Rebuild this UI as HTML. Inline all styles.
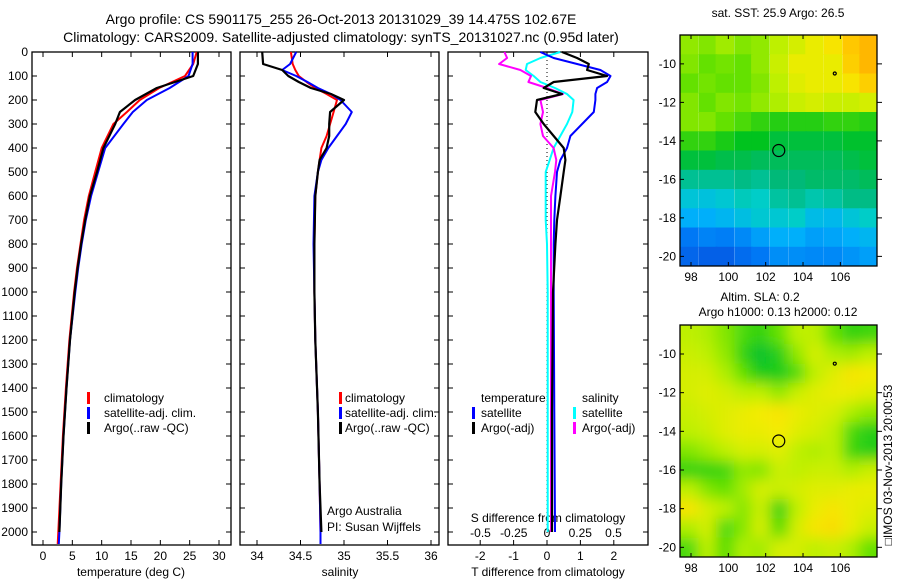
<!DOCTYPE html>
<html><head><meta charset="utf-8"><style>
html,body{margin:0;padding:0;background:#fff}
svg{display:block}
text{font-family:"Liberation Sans",sans-serif;font-size:12px;fill:#000}
</style></head><body>
<svg id="s" width="900" height="580" viewBox="0 0 900 580" xmlns="http://www.w3.org/2000/svg">
<defs>
<clipPath id="cm1"><rect x="680" y="35" width="197" height="231"/></clipPath>
<clipPath id="cm2"><rect x="680" y="325" width="197" height="232"/></clipPath>
<filter id="blur" x="0" y="0" width="1" height="1"><feGaussianBlur stdDeviation="7" edgeMode="duplicate"/></filter>
</defs>
<text x="341" y="24" text-anchor="middle" style="font-size:14px">Argo profile: CS 5901175_255 26-Oct-2013 20131029_39 14.475S 102.67E</text>
<text x="341" y="42" text-anchor="middle" style="font-size:14px">Climatology: CARS2009. Satellite-adjusted climatology: synTS_20131027.nc (0.95d later)</text>
<text x="778" y="17" text-anchor="middle">sat. SST: 25.9 Argo: 26.5</text>
<text x="760" y="301" text-anchor="middle">Altim. SLA: 0.2</text>
<text x="778" y="316" text-anchor="middle">Argo h1000: 0.13 h2000: 0.12</text>
<text transform="translate(892,465) rotate(-90)" text-anchor="middle">□IMOS 03-Nov-2013 20:00:53</text>
<g id="g"></g>
</svg>
<script>
// ---- profile data ----
const depthT = [0,50,100,150,200,250,300,400,500,600,700,800,900,1000,1200,1400,1600,1800,2000,2050];
const tempArgo = [26.4,26.4,25.6,19.4,15.7,13.1,12.3,10.3,9.2,8.0,7.2,6.5,5.9,5.4,4.6,4.0,3.5,3.1,2.8,null];
const tempClim = [26.2,25.6,24.2,19.8,16.5,14.3,12.0,10.0,8.9,7.8,7.0,6.4,5.8,5.3,4.5,3.9,3.4,3.0,2.6,2.5];
const tempSat = [25.5,25.5,24.8,21.6,17.7,15.3,13.7,10.6,9.4,8.2,7.3,6.6,6.0,5.5,4.6,4.0,3.5,3.1,2.8,2.7];
const depthS = [0,50,75,100,125,150,175,200,250,300,350,400,450,500,600,800,1000,1200,1500,1800,2000,2050];
const salArgo = [34.06,34.07,34.29,34.36,34.48,34.62,34.85,35.0,34.84,34.83,34.83,34.8,34.72,34.70,34.67,34.66,34.66,34.67,34.70,34.72,34.74,null];
const salClim = [34.39,34.41,34.44,34.48,34.57,34.67,34.80,34.92,34.88,34.84,34.80,34.74,34.72,34.70,34.67,34.66,34.66,34.67,34.70,34.72,34.73,34.73];
const salSat = [34.45,34.38,34.29,34.45,34.58,34.70,34.85,34.96,35.09,35.02,34.92,34.82,34.74,34.70,34.66,34.65,34.66,34.67,34.70,34.72,34.73,34.73];
const depthD = [0,25,50,75,100,125,150,175,200,250,300,350,400,450,500,600,700,800,1000,1500,2000];
const dTArgo = [0.45,0.9,1.25,1.2,1.8,0.2,-0.1,0.45,-0.3,-0.35,-0.1,0.2,0.5,0.55,0.5,0.4,0.3,0.25,0.18,0.15,0.15];
const dTSat = [-0.2,0.2,0.9,1.6,1.9,1.8,1.5,1.45,1.45,1.4,1.05,0.7,0.6,0.4,0.3,0.25,0.22,0.2,0.2,0.22,0.24];
const dSSat = [0.1,-0.05,-0.15,-0.16,-0.1,-0.05,0.06,0.15,0.2,0.19,0.15,0.1,0.05,0.02,-0.01,-0.01,-0.01,0,0.005,0.005,0.005];
const dSArgo = [-0.32,-0.3,-0.36,-0.2,-0.12,-0.14,0,0.12,-0.05,-0.03,-0.05,-0.03,0.05,0.07,0.06,0.03,0.03,0.03,0.03,0.03,0.03];
const depthTicks = [0,100,200,300,400,500,600,700,800,900,1000,1100,1200,1300,1400,1500,1600,1700,1800,1900,2000];
const tempTicks = [0,5,10,15,20,25,30];
const salTicks = [34,34.5,35,35.5,36];
const salTickLabels = ["34","34.5","35","35.5","36"];
const dTTicks = [-2,-1,0,1,2];
const dSTicks = [-0.5,-0.25,0,0.25,0.5];
const dSTickLabels = ["-0.5","-0.25","0","0.25","0.5"];
// ---- map data (colour index 0..7) ----
const mapLons = [97.9,98.9,99.8,100.8,101.7,102.7,103.7,104.6,105.6,106.6,107.5];
const mapLats = [-9,-10,-11,-12,-13,-14,-15,-16,-17,-18,-19,-20];
const sst = [
[5.3,5.2,5.4,5.2,5.3,5.6,5.8,6.0,6.2,6.6,6.8],
[5.2,5.0,5.1,5.0,5.3,5.7,6.0,6.0,6.0,6.5,6.8],
[5.0,5.1,5.0,5.0,5.2,5.6,5.9,6.0,6.0,6.2,6.5],
[5.2,5.0,5.2,5.1,5.3,5.5,5.7,5.8,5.7,5.7,5.8],
[5.2,5.2,5.0,4.8,4.6,4.5,4.5,4.5,4.6,4.6,4.5],
[4.6,4.6,4.4,4.2,4.2,4.0,4.0,4.0,4.0,4.1,4.1],
[4.0,4.0,3.9,3.9,3.8,3.8,3.8,3.8,3.8,3.9,4.0],
[3.4,3.4,3.4,3.5,3.4,3.6,3.6,3.7,3.7,3.7,3.8],
[2.7,2.6,2.8,3.1,3.0,3.3,3.4,3.2,3.3,3.5,3.5],
[2.0,2.0,2.2,2.5,2.8,2.8,3.0,2.4,2.3,2.7,3.0],
[1.0,1.2,1.1,1.3,1.7,2.0,2.0,1.7,1.8,2.0,2.2],
[0.7,0.6,0.6,0.8,1.0,1.4,1.4,1.3,1.3,1.5,1.7]];
const sla = [
[5.6,5.5,5.2,4.8,4.6,5.0,5.6,5.6,5.0,4.6,4.7],
[5.7,5.6,5.3,4.6,4.1,4.5,5.3,5.8,5.5,5.4,5.6],
[5.8,5.8,5.5,5.0,4.4,4.4,4.8,5.6,5.9,6.2,6.1],
[5.8,5.9,5.8,5.6,5.6,5.3,5.7,5.9,6.0,6.0,5.9],
[5.7,5.8,5.9,6.0,6.1,6.2,6.0,5.9,5.8,5.5,5.3],
[5.6,5.7,5.9,6.0,6.0,6.1,5.9,5.8,5.6,4.8,4.5],
[5.2,5.4,5.6,5.8,5.8,5.9,5.6,5.5,5.6,4.7,4.5],
[4.6,4.6,4.7,5.3,5.2,5.7,5.6,5.7,5.7,5.5,5.7],
[5.6,5.2,5.0,5.4,5.8,5.7,5.8,5.9,5.9,6.0,6.0],
[6.2,5.8,5.6,5.2,5.7,4.6,5.6,6.0,6.2,6.0,5.9],
[5.5,5.8,4.8,5.2,5.8,4.9,5.8,6.2,6.3,6.0,5.7],
[4.8,5.6,4.9,5.5,5.4,5.8,5.8,5.6,5.7,5.5,5.0]];
const floatPos = [102.7,-14.5];
const nearPos = [105.7,-10.5];
const mapLonTicks = [98,100,102,104,106];
const mapLatTicks = [-10,-12,-14,-16,-18,-20];

const NS="http://www.w3.org/2000/svg";
const G=document.getElementById('g');
function mk(tag,attrs,parent){const e=document.createElementNS(NS,tag);for(const k in attrs)e.setAttribute(k,attrs[k]);(parent||G).appendChild(e);return e;}
function txt(x,y,s,anchor,parent){const t=mk('text',{x:x,y:y,'text-anchor':anchor||'start'},parent);t.textContent=s;return t;}

const TOP=52,BOT=545;
const yD=d=>TOP+d*0.24;
const xT=v=>43+v*5.867;
const xS=v=>257+(v-34)*87;
const xDT=v=>547+v*33.4;
const xDS=v=>547+v*133;

function frame(x0,x1,name){
  const r=mk('rect',{x:x0,y:TOP,width:x1-x0,height:BOT-TOP,fill:'none',stroke:'#000','stroke-width':1.3});
  
  
  depthTicks.forEach(d=>{mk('line',{x1:x0,x2:x0+5,y1:yD(d),y2:yD(d),stroke:'#000'});mk('line',{x1:x1,x2:x1-5,y1:yD(d),y2:yD(d),stroke:'#000'});});
}
function xticks(vals,labels,fx,ly){
  vals.forEach((v,i)=>{const x=fx(v);mk('line',{x1:x,x2:x,y1:BOT,y2:BOT-5,stroke:'#000'});mk('line',{x1:x,x2:x,y1:TOP,y2:TOP+5,stroke:'#000'});
    const t=txt(x,ly,labels[i],'middle');});
}
function line(depths,vals,fx,color,name,w){
  const pts=[];depths.forEach((d,i)=>{if(vals[i]!==null)pts.push(fx(vals[i]).toFixed(1)+','+yD(d).toFixed(1));});
  const p=mk('polyline',{points:pts.join(' '),fill:'none',stroke:color,'stroke-width':w||2,'stroke-linejoin':'round'});
  
  
}
function legend(items,xb,xt,y0){
  items.forEach((it,i)=>{const y=y0+i*15;mk('rect',{x:xb,y:y-10,width:3,height:12,fill:it[1]});
    const t=txt(xt,y,it[0]);});
}

// panel 1 temperature
frame(32,231,'temperature-panel');
depthTicks.forEach(d=>{const t=txt(28,yD(d)+4,String(d),'end');});
xticks(tempTicks,tempTicks.map(String),xT,560);
txt(131,576,'temperature (deg C)','middle');
line(depthT,tempClim,xT,'#f00','temp-climatology-line');
line(depthT,tempSat,xT,'#00f','temp-satellite-line');
line(depthT,tempArgo,xT,'#000','temp-argo-line',2.2);
legend([['climatology','#f00'],['satellite-adj. clim.','#00f'],['Argo(..raw -QC)','#000']],87,104,402);

// panel 2 salinity
frame(240,439,'salinity-panel');
xticks(salTicks,salTickLabels,xS,560);
txt(340,576,'salinity','middle');
line(depthS,salClim,xS,'#f00','sal-climatology-line');
line(depthS,salSat,xS,'#00f','sal-satellite-line');
line(depthS,salArgo,xS,'#000','sal-argo-line',2.2);
legend([['climatology','#f00'],['satellite-adj. clim.','#00f'],['Argo(..raw -QC)','#000']],339,345,402);
txt(327,515,'Argo Australia');
txt(327,531,'PI: Susan Wijffels');

// panel 3 differences
frame(448,648,'difference-panel');
xticks(dTTicks,dTTicks.map(String),xDT,560);
dSTicks.forEach((v,i)=>{const t=txt(xDS(v),537,dSTickLabels[i],'middle');});
txt(548,522,'S difference from climatology','middle');
txt(548,576,'T difference from climatology','middle');
mk('line',{x1:xDT(0),x2:xDT(0),y1:TOP,y2:BOT,stroke:'#000','stroke-dasharray':'1,3'});
line(depthD,dSSat,xDS,'#0ff','s-diff-satellite-line');
line(depthD,dSArgo,xDS,'#f0f','s-diff-argo-line');
line(depthD,dTSat,xDT,'#00f','t-diff-satellite-line');
line(depthD,dTArgo,xDT,'#000','t-diff-argo-line',2.2);
txt(481,402,'temperature');
txt(582,402,'salinity');
legend([['satellite','#00f'],['Argo(-adj)','#000']],472,481,417);
legend([['satellite','#0ff'],['Argo(-adj)','#f0f']],573,582,417);

// colour map
const stops=[[0,[10,60,210]],[1,[0,120,245]],[2,[0,175,250]],[3,[0,205,200]],[3.6,[0,185,120]],[4.2,[0,195,30]],[5,[100,225,0]],[5.6,[190,240,0]],[6.1,[245,235,0]],[6.6,[255,200,0]],[7,[255,165,0]]];
function col(v){for(let i=0;i<stops.length-1;i++){const a=stops[i],b=stops[i+1];if(v<=b[0]||i==stops.length-2){const f=Math.max(0,Math.min(1,(v-a[0])/(b[0]-a[0])));return 'rgb('+a[1].map((c,k)=>Math.round(c+(b[1][k]-c)*f)).join(',')+')';}}}

function drawMap(grid,yTop,yBot,clip,blur,name){
  const x0=680,x1=877;
  const lx=v=>691+(v-98)*18.67;
  const ly=v=>(yTop)+(-8.5-v)*(yBot-yTop)/12;
  const outer=mk('g',{'clip-path':'url(#'+clip+')'});
  
  
  const inner=mk('g',blur?{filter:'url(#blur)'}:{},outer);
  const dlon=(mapLons[mapLons.length-1]-mapLons[0])/(mapLons.length-1);
  grid.forEach((row,r)=>row.forEach((v,c)=>{
    const xa=lx(mapLons[c]-dlon/2)-(c==0?20:0), xb=lx(mapLons[c]+dlon/2)+(c==row.length-1?20:0);
    const ya=ly(mapLats[r]+0.5)-(r==0?20:0), yb=ly(mapLats[r]-0.5)+(r==grid.length-1?20:0);
    const cell=mk('rect',{x:xa.toFixed(1),y:ya.toFixed(1),width:(xb-xa+0.6).toFixed(1),height:(yb-ya+0.6).toFixed(1),fill:col(v)},inner);
    
    
  }));
  mk('circle',{cx:lx(floatPos[0]),cy:ly(floatPos[1]),r:6,fill:'none',stroke:'#000','stroke-width':1.2},outer);
  mk('circle',{cx:lx(nearPos[0]),cy:ly(nearPos[1]),r:1.5,fill:'none',stroke:'#000','stroke-width':1.2},outer);
  mk('rect',{x:x0,y:yTop,width:x1-x0,height:yBot-yTop,fill:'none',stroke:'#000','stroke-width':1.3});
  mapLonTicks.forEach(v=>{const x=lx(v);mk('line',{x1:x,x2:x,y1:yBot,y2:yBot-4,stroke:'#000'});mk('line',{x1:x,x2:x,y1:yTop,y2:yTop+4,stroke:'#000'});
    const t=txt(x,yBot+15,String(v),'middle');});
  mapLatTicks.forEach(v=>{const y=ly(v);mk('line',{x1:x0,x2:x0+4,y1:y,y2:y,stroke:'#000'});mk('line',{x1:x1,x2:x1+5,y1:y,y2:y,stroke:'#000'});
    const t=txt(676,y+4,String(v),'end');});
}
drawMap(sst,35,266,'cm1',false,'sst-map');
drawMap(sla,325,557,'cm2',true,'sla-map');
</script>
</body></html>
